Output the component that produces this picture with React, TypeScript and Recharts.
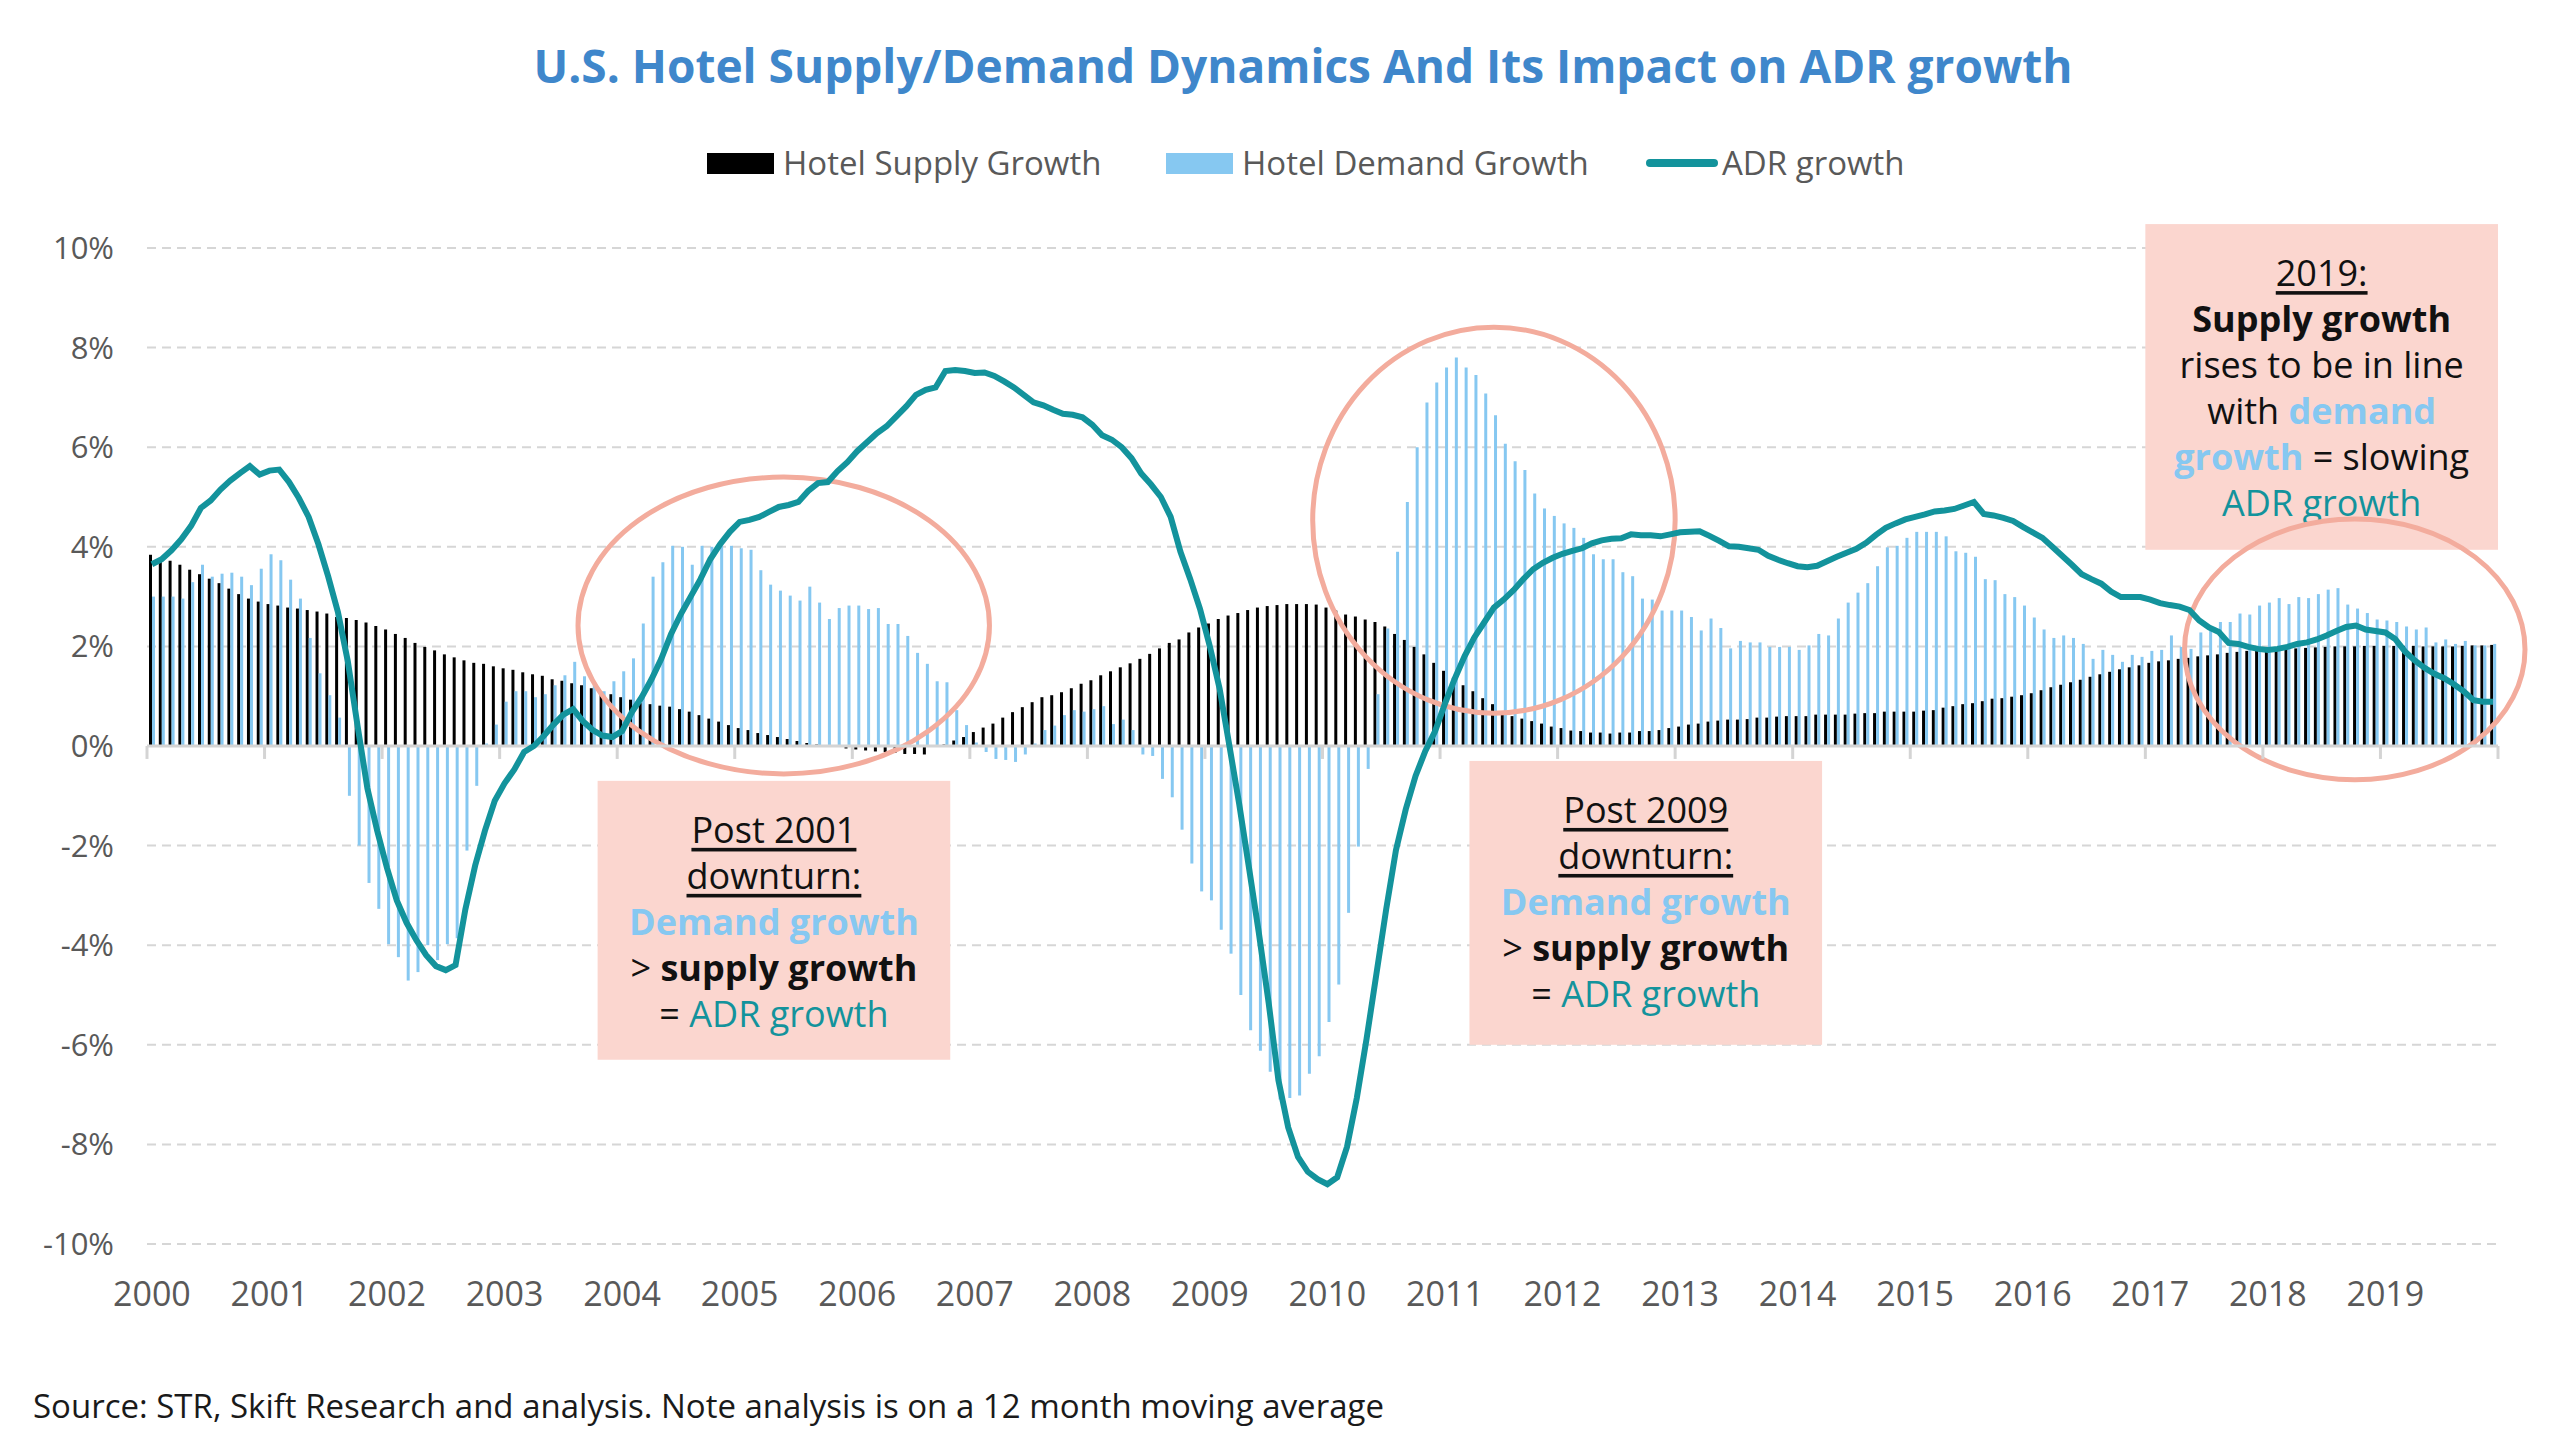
import React from "react";
import {
  ComposedChart,
  Bar,
  Line,
  XAxis,
  YAxis,
  CartesianGrid,
  ReferenceLine,
  ReferenceArea,
} from "recharts";

const FONT = '"Open Sans", "Noto Sans", sans-serif';
const INK = "#111111";
const AXIS_GREY = "#595959";
const BLUE = "#86c8f1";
const TEAL = "#13939c";
const PINK = "#fbd6cf";
const SALMON = "#f3ac9d";

const YEARS = [2000, 2001, 2002, 2003, 2004, 2005, 2006, 2007, 2008, 2009, 2010, 2011, 2012, 2013, 2014, 2015, 2016, 2017, 2018, 2019];
const MONTHS = ["01", "02", "03", "04", "05", "06", "07", "08", "09", "10", "11", "12"];
const Y_TICKS = [-10, -8, -6, -4, -2, 0, 2, 4, 6, 8, 10];

// hotel supply growth, % (12 month moving average), one row per year
const SUPPLY = [
  3.84, 3.76, 3.72, 3.64, 3.54, 3.45, 3.36, 3.27, 3.16, 3.05, 2.96, 2.9,
  2.85, 2.82, 2.78, 2.76, 2.73, 2.7, 2.66, 2.59, 2.57, 2.53, 2.48, 2.41,
  2.34, 2.25, 2.17, 2.07, 1.99, 1.92, 1.84, 1.78, 1.72, 1.67, 1.65, 1.6,
  1.56, 1.53, 1.48, 1.44, 1.41, 1.34, 1.31, 1.26, 1.22, 1.16, 1.09, 1.04,
  0.98, 0.93, 0.86, 0.84, 0.81, 0.79, 0.74, 0.69, 0.62, 0.55, 0.49, 0.42,
  0.36, 0.32, 0.26, 0.22, 0.18, 0.14, 0.1, 0.06, 0.03, 0.02, 0.01, -0.05,
  -0.07, -0.09, -0.11, -0.12, -0.14, -0.16, -0.16, -0.17, -0.02, 0.03, 0.11, 0.18,
  0.28, 0.37, 0.45, 0.57, 0.68, 0.78, 0.88, 0.98, 1.02, 1.08, 1.16, 1.25,
  1.32, 1.42, 1.5, 1.58, 1.66, 1.75, 1.85, 1.96, 2.07, 2.14, 2.28, 2.38,
  2.46, 2.55, 2.62, 2.67, 2.73, 2.78, 2.81, 2.83, 2.85, 2.85, 2.85, 2.84,
  2.78, 2.72, 2.64, 2.6, 2.54, 2.49, 2.4, 2.25, 2.13, 1.99, 1.84, 1.67,
  1.51, 1.37, 1.22, 1.1, 0.96, 0.84, 0.69, 0.6, 0.55, 0.5, 0.45, 0.39,
  0.36, 0.31, 0.3, 0.27, 0.27, 0.25, 0.27, 0.27, 0.3, 0.3, 0.32, 0.36,
  0.39, 0.43, 0.45, 0.49, 0.51, 0.53, 0.53, 0.54, 0.57, 0.57, 0.59, 0.6,
  0.6, 0.6, 0.63, 0.63, 0.63, 0.63, 0.65, 0.66, 0.66, 0.69, 0.69, 0.69,
  0.69, 0.71, 0.72, 0.77, 0.8, 0.84, 0.86, 0.9, 0.95, 0.96, 0.99, 1.02,
  1.06, 1.12, 1.18, 1.23, 1.28, 1.33, 1.39, 1.44, 1.49, 1.54, 1.58, 1.62,
  1.67, 1.7, 1.72, 1.75, 1.77, 1.8, 1.82, 1.84, 1.87, 1.89, 1.91, 1.92,
  1.93, 1.93, 1.95, 1.96, 1.97, 1.98, 1.99, 2.0, 2.0, 2.0, 2.01, 2.01,
  2.01, 2.01, 2.01, 2.01, 2.0, 2.0, 2.0, 2.0, 2.01, 2.02, 2.02, 2.03,
];

// hotel demand growth, %
const DEMAND = [
  3.0, 3.0, 3.0, 2.96, 3.29, 3.64, 3.4, 3.46, 3.48, 3.4, 3.23, 3.56,
  3.85, 3.73, 3.34, 2.96, 2.17, 1.46, 1.02, 0.57, -1.0, -2.0, -2.75, -3.27,
  -3.98, -4.24, -4.71, -4.54, -4.0, -4.3, -3.98, -3.86, -2.1, -0.8, 0.05, 0.43,
  0.89, 1.1, 1.1, 0.98, 1.04, 1.22, 1.42, 1.69, 1.4, 1.22, 1.1, 1.3,
  1.5, 1.76, 2.46, 3.4, 3.69, 4.02, 4.0, 3.64, 4.02, 4.0, 4.02, 4.02,
  3.97, 3.94, 3.53, 3.24, 3.12, 3.02, 2.92, 3.2, 2.88, 2.55, 2.77, 2.82,
  2.82, 2.75, 2.77, 2.45, 2.45, 2.21, 1.87, 1.65, 1.3, 1.28, 0.72, 0.42,
  0.07, -0.12, -0.26, -0.28, -0.32, -0.17, 0.05, 0.32, 0.41, 0.62, 0.72, 0.69,
  0.74, 0.8, 0.44, 0.53, 0.32, -0.17, -0.2, -0.66, -1.03, -1.68, -2.36, -2.92,
  -3.1, -3.69, -4.17, -5.0, -5.71, -6.12, -6.54, -7.1, -7.07, -7.02, -6.58, -6.23,
  -5.54, -4.79, -3.35, -2.02, -0.46, 1.04, 2.36, 3.9, 4.9, 6.0, 6.9, 7.3,
  7.6, 7.8, 7.6, 7.45, 7.08, 6.64, 6.07, 5.72, 5.54, 5.07, 4.77, 4.62,
  4.47, 4.38, 4.18, 3.85, 3.75, 3.75, 3.49, 3.41, 2.96, 2.94, 2.72, 2.72,
  2.72, 2.59, 2.32, 2.56, 2.37, 1.96, 2.11, 2.08, 2.08, 1.99, 1.99, 1.99,
  1.93, 2.02, 2.25, 2.22, 2.56, 2.88, 3.08, 3.27, 3.61, 3.99, 4.02, 4.18,
  4.3, 4.3, 4.3, 4.21, 3.91, 3.88, 3.8, 3.35, 3.33, 3.05, 2.99, 2.82,
  2.58, 2.34, 2.17, 2.22, 2.17, 2.05, 1.75, 1.93, 1.83, 1.69, 1.83, 1.79,
  1.91, 1.93, 2.22, 1.99, 1.95, 2.28, 2.31, 2.49, 2.49, 2.66, 2.64, 2.82,
  2.88, 2.97, 2.85, 2.99, 2.97, 3.05, 3.14, 3.17, 2.84, 2.76, 2.67, 2.54,
  2.52, 2.49, 2.4, 2.34, 2.38, 2.08, 2.14, 2.05, 2.11, 2.02, 2.02, 2.05,
];

// ADR growth, %
const ADR = [
  3.65, 3.75, 3.93, 4.15, 4.42, 4.78, 4.93, 5.15, 5.33, 5.48, 5.62, 5.45,
  5.53, 5.55, 5.3, 4.98, 4.6, 4.05, 3.4, 2.68, 1.7, 0.4, -0.85, -1.7,
  -2.45, -3.1, -3.55, -3.9, -4.2, -4.42, -4.5, -4.4, -3.28, -2.4, -1.7, -1.1,
  -0.75, -0.47, -0.12, 0.0, 0.2, 0.43, 0.63, 0.74, 0.5, 0.32, 0.21, 0.18,
  0.3, 0.68, 0.98, 1.34, 1.75, 2.25, 2.65, 3.0, 3.35, 3.75, 4.05, 4.3,
  4.5, 4.54, 4.6, 4.7, 4.8, 4.84, 4.9, 5.12, 5.28, 5.3, 5.52, 5.7,
  5.92, 6.1, 6.28, 6.42, 6.62, 6.82, 7.05, 7.15, 7.2, 7.53, 7.55, 7.53,
  7.49, 7.5, 7.43, 7.32, 7.2, 7.05, 6.9, 6.84, 6.75, 6.67, 6.65, 6.6,
  6.45, 6.24, 6.15, 6.0, 5.78, 5.47, 5.25, 5.0, 4.6, 3.9, 3.35, 2.75,
  2.0, 1.15, 0.0, -1.17, -2.45, -3.75, -5.15, -6.71, -7.66, -8.25, -8.55, -8.7,
  -8.8, -8.66, -8.05, -7.07, -5.88, -4.58, -3.28, -2.09, -1.27, -0.6, -0.1, 0.3,
  0.85, 1.35, 1.8, 2.18, 2.48, 2.78, 2.94, 3.13, 3.35, 3.55, 3.68, 3.78,
  3.86, 3.92, 3.97, 4.07, 4.13, 4.16, 4.17, 4.25, 4.23, 4.23, 4.21, 4.25,
  4.29, 4.3, 4.31, 4.22, 4.12, 4.01, 4.0, 3.97, 3.94, 3.82, 3.74, 3.67,
  3.61, 3.59, 3.62, 3.71, 3.8, 3.88, 3.96, 4.08, 4.24, 4.38, 4.47, 4.55,
  4.6, 4.65, 4.71, 4.73, 4.76, 4.83, 4.9, 4.66, 4.63, 4.58, 4.52, 4.4,
  4.29, 4.18, 4.0, 3.82, 3.64, 3.45, 3.35, 3.26, 3.1, 2.99, 2.99, 2.99,
  2.94, 2.87, 2.83, 2.8, 2.73, 2.52, 2.38, 2.29, 2.07, 2.05, 1.99, 1.95,
  1.93, 1.95, 1.99, 2.05, 2.08, 2.14, 2.22, 2.31, 2.39, 2.42, 2.34, 2.31,
  2.28, 2.15, 1.9, 1.72, 1.57, 1.45, 1.36, 1.24, 1.1, 0.92, 0.89, 0.89,
];

const CATEGORIES = YEARS.flatMap((y) => MONTHS.map((m) => `${y}-${m}`));
const YEAR_TICKS = YEARS.map((y) => `${y}-01`);

const data = CATEGORIES.map((month, i) => ({
  month,
  supply: SUPPLY[i],
  demand: DEMAND[i],
  adr: ADR[i],
}));

type Seg = { t: string; c: string; b?: boolean; u?: boolean };

const BOX_2001: Seg[][] = [
  [{ t: "Post 2001", c: INK, u: true }],
  [{ t: "downturn:", c: INK, u: true }],
  [{ t: "Demand growth", c: BLUE, b: true }],
  [{ t: ">\u00a0", c: INK }, { t: "supply growth", c: INK, b: true }],
  [{ t: "=\u00a0", c: INK }, { t: "ADR growth", c: TEAL }],
];

const BOX_2009: Seg[][] = [
  [{ t: "Post 2009", c: INK, u: true }],
  [{ t: "downturn:", c: INK, u: true }],
  [{ t: "Demand growth", c: BLUE, b: true }],
  [{ t: ">\u00a0", c: INK }, { t: "supply growth", c: INK, b: true }],
  [{ t: "=\u00a0", c: INK }, { t: "ADR growth", c: TEAL }],
];

const BOX_2019: Seg[][] = [
  [{ t: "2019:", c: INK, u: true }],
  [{ t: "Supply growth", c: INK, b: true }],
  [{ t: "rises to be in line", c: INK }],
  [{ t: "with\u00a0", c: INK }, { t: "demand", c: BLUE, b: true }],
  [{ t: "growth", c: BLUE, b: true }, { t: "\u00a0= slowing", c: INK }],
  [{ t: "ADR growth", c: TEAL }],
];

const NoteBox = (props: any) => {
  const { x, y, width, height, lines } = props;
  const cx = x + width / 2;
  return (
    <g>
      <rect x={x} y={y} width={width} height={height} fill={PINK} />
      {lines.map((line: Seg[], i: number) => (
        <text
          key={i}
          x={cx}
          y={y + 48 + i * 46}
          textAnchor="middle"
          dominantBaseline="central"
          fontFamily={FONT}
          fontSize={36}
        >
          {line.map((s, j) => (
            <tspan
              key={j}
              fill={s.c}
              fontWeight={s.b ? 700 : 400}
              style={s.u ? { textDecoration: "underline" } : undefined}
            >
              {s.t}
            </tspan>
          ))}
        </text>
      ))}
    </g>
  );
};

const Ring = (props: any) => {
  const { x, y, width, height, extraRight = 0 } = props;
  const w = width + extraRight;
  return (
    <ellipse
      cx={x + w / 2}
      cy={y + height / 2}
      rx={w / 2}
      ry={height / 2}
      fill="none"
      stroke={SALMON}
      strokeWidth={5}
    />
  );
};

const LegendItem = ({ left, label, kind }: { left: number; label: string; kind: string }) => (
  <div style={{ position: "absolute", left, top: 146, display: "flex", alignItems: "center", height: 34 }}>
    {kind === "line" ? (
      <div style={{ width: 72, height: 8, background: TEAL, borderRadius: 4, marginRight: 4 }} />
    ) : (
      <div style={{ width: 67, height: 21, background: kind === "supply" ? "#000" : BLUE, marginRight: 9 }} />
    )}
    <span style={{ fontSize: 33, color: AXIS_GREY, lineHeight: "34px" }}>{label}</span>
  </div>
);

export default function App() {
  return (
    <div style={{ position: "relative", width: 2560, height: 1448, background: "#fff", fontFamily: FONT, overflow: "hidden" }}>
      <style>{"body{margin:0}"}</style>
      <div
        style={{
          position: "absolute",
          left: 1303,
          top: 39,
          transform: "translateX(-50%)",
          whiteSpace: "nowrap",
          fontSize: 46,
          fontWeight: 700,
          color: "#3f87cb",
          lineHeight: "52px",
        }}
      >
        U.S. Hotel Supply/Demand Dynamics And Its Impact on ADR growth
      </div>

      <LegendItem left={707} label="Hotel Supply Growth" kind="supply" />
      <LegendItem left={1166} label="Hotel Demand Growth" kind="demand" />
      <LegendItem left={1646} label="ADR growth" kind="line" />

      <div style={{ position: "absolute", left: 0, top: 0 }}>
        <ComposedChart
          width={2560}
          height={1340}
          data={data}
          margin={{ top: 248, right: 62, bottom: 36, left: 47 }}
          barGap={0}
        >
          <CartesianGrid vertical={false} stroke="#d6d6d6" strokeWidth={2} strokeDasharray="9 6" />
          <XAxis
            dataKey="month"
            ticks={YEAR_TICKS}
            interval={0}
            tickFormatter={(m: string) => m.slice(0, 4)}
            axisLine={false}
            tickLine={false}
            height={60}
            tickSize={29}
            tickMargin={9}
            tick={{ fill: AXIS_GREY, fontSize: 34, fontFamily: FONT }}
          />
          <YAxis
            domain={[-10, 10]}
            ticks={Y_TICKS}
            tickFormatter={(v: number) => `${v}%`}
            axisLine={false}
            tickLine={false}
            width={100}
            tickSize={25}
            tickMargin={8}
            tick={{ fill: AXIS_GREY, fontSize: 31, fontFamily: FONT }}
          />
          <ReferenceLine y={0} stroke="#d4d4d4" strokeWidth={3} />
          {YEAR_TICKS.map((m) => (
            <ReferenceLine
              key={m}
              segment={[{ x: m, y: 0 }, { x: m, y: -0.26 }]}
              position="start"
              stroke="#d4d4d4"
              strokeWidth={3}
            />
          ))}
          <ReferenceLine
            segment={[{ x: "2019-12", y: 0 }, { x: "2019-12", y: -0.26 }]}
            position="end"
            stroke="#d4d4d4"
            strokeWidth={3}
          />
          <Bar dataKey="supply" fill="#000000" barSize={3} isAnimationActive={false} />
          <Bar dataKey="demand" fill={BLUE} barSize={3} isAnimationActive={false} />

          <ReferenceArea
            x1="2003-11"
            x2="2006-10"
            y1={-0.7}
            y2={-6.3}
            ifOverflow="visible"
            zIndex={350}
            shape={(p: any) => <NoteBox {...p} lines={BOX_2001} />}
          />
          <ReferenceArea
            x1="2011-04"
            x2="2014-03"
            y1={-0.3}
            y2={-6.0}
            ifOverflow="visible"
            zIndex={350}
            shape={(p: any) => <NoteBox {...p} lines={BOX_2009} />}
          />
          <ReferenceArea
            x1="2017-01"
            x2="2019-12"
            y1={10.48}
            y2={3.94}
            ifOverflow="visible"
            zIndex={350}
            shape={(p: any) => <NoteBox {...p} lines={BOX_2019} />}
          />
          <ReferenceArea
            x1="2003-09"
            x2="2007-02"
            y1={5.4}
            y2={-0.56}
            ifOverflow="visible"
            zIndex={360}
            shape={(p: any) => <Ring {...p} />}
          />
          <ReferenceArea
            x1="2009-12"
            x2="2012-12"
            y1={8.41}
            y2={0.66}
            ifOverflow="visible"
            zIndex={360}
            shape={(p: any) => <Ring {...p} />}
          />
          <ReferenceArea
            x1="2017-05"
            x2="2019-12"
            y1={4.56}
            y2={-0.68}
            ifOverflow="visible"
            zIndex={360}
            shape={(p: any) => <Ring {...p} extraRight={27} />}
          />

          <Line
            dataKey="adr"
            type="linear"
            stroke={TEAL}
            strokeWidth={6}
            dot={false}
            activeDot={false}
            isAnimationActive={false}
          />
        </ComposedChart>
      </div>

      <div
        style={{
          position: "absolute",
          left: 33,
          top: 1387,
          fontSize: 33,
          color: "#1a1a1a",
          lineHeight: "38px",
          whiteSpace: "nowrap",
        }}
      >
        Source: STR, Skift Research and analysis. Note analysis is on a 12 month moving average
      </div>
    </div>
  );
}
